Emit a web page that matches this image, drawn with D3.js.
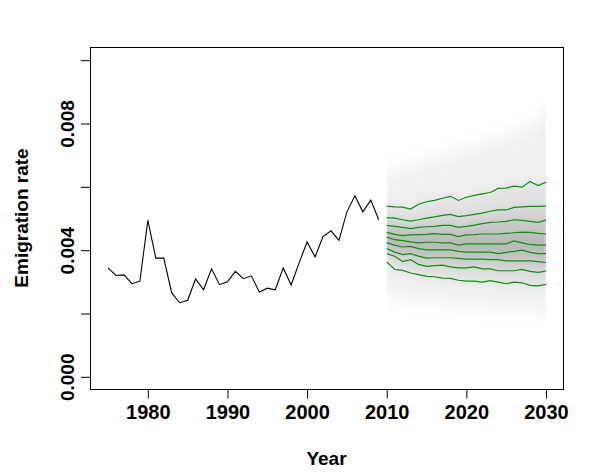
<!DOCTYPE html>
<html><head><meta charset="utf-8">
<script src="https://cdn.jsdelivr.net/npm/d3@7"></script>
<style>body{margin:0;background:#fff}</style>
</head><body><svg id="c" width="590" height="472"></svg>
<script>
// ---- data ----
const histStart = 1975;
const histValues = [0.00344,0.00320,0.00322,0.00294,0.00302,0.00494,0.00375,0.00375,0.00265,0.00234,
  0.00242,0.00309,0.00275,0.00341,0.00291,0.00300,0.00333,0.00310,0.00319,0.00268,
  0.00280,0.00275,0.00344,0.00290,0.00360,0.00426,0.00379,0.00443,0.00461,0.00431,
  0.00521,0.00572,0.00521,0.00558,0.00496];
const fcStart = 2010;
const q90 = [0.00539,0.00537,0.00536,0.00530,0.00545,0.00553,0.00557,0.00564,0.00570,0.00557,0.00567,0.00573,0.00578,0.00582,0.00595,0.00596,0.00602,0.00599,0.00617,0.00604,0.00615];
const q80 = [0.00503,0.00501,0.00496,0.00492,0.00496,0.00501,0.00505,0.00510,0.00513,0.00506,0.00509,0.00513,0.00517,0.00523,0.00527,0.00527,0.00535,0.00537,0.00538,0.00538,0.00539];
const q70 = [0.00478,0.00475,0.00472,0.00468,0.00472,0.00474,0.00475,0.00478,0.00478,0.00472,0.00475,0.00479,0.00484,0.00488,0.00489,0.00491,0.00496,0.00494,0.00491,0.00488,0.00495];
const q60 = [0.00456,0.00450,0.00446,0.00448,0.00449,0.00450,0.00452,0.00450,0.00450,0.00443,0.00448,0.00449,0.00451,0.00451,0.00451,0.00453,0.00455,0.00457,0.00456,0.00453,0.00451];
const q50 = [0.00441,0.00433,0.00430,0.00426,0.00423,0.00425,0.00425,0.00423,0.00423,0.00416,0.00420,0.00420,0.00420,0.00420,0.00420,0.00420,0.00429,0.00423,0.00418,0.00416,0.00416];
const q40 = [0.00423,0.00416,0.00410,0.00412,0.00405,0.00401,0.00401,0.00401,0.00401,0.00396,0.00394,0.00394,0.00394,0.00394,0.00389,0.00393,0.00396,0.00400,0.00393,0.00389,0.00389];
const q30 = [0.00405,0.00394,0.00386,0.00389,0.00381,0.00375,0.00376,0.00376,0.00376,0.00374,0.00372,0.00372,0.00372,0.00370,0.00370,0.00366,0.00366,0.00366,0.00366,0.00364,0.00361];
const q20 = [0.00389,0.00381,0.00364,0.00370,0.00355,0.00349,0.00351,0.00353,0.00347,0.00344,0.00344,0.00347,0.00341,0.00341,0.00335,0.00335,0.00335,0.00339,0.00333,0.00330,0.00334];
const q10 = [0.00363,0.00339,0.00336,0.00328,0.00323,0.00317,0.00316,0.00312,0.00311,0.00305,0.00302,0.00302,0.00299,0.00304,0.00299,0.00294,0.00299,0.00297,0.00289,0.00287,0.00292];
const fanTop = [0.00640,0.00645,0.00650,0.00660,0.00670,0.00678,0.00685,0.00690,0.00700,0.00705,0.00712,0.00720,0.00728,0.00738,0.00745,0.00755,0.00765,0.00775,0.00790,0.00805,0.00830];
const fanBottom = [0.00268,0.00262,0.00258,0.00252,0.00248,0.00245,0.00242,0.00240,0.00238,0.00235,0.00232,0.00230,0.00228,0.00226,0.00224,0.00222,0.00220,0.00218,0.00216,0.00214,0.00212];
const xTicks = [1980,1990,2000,2010,2020,2030];
const yTicks = [0,0.002,0.004,0.006,0.008,0.010];
const yTickLabels = ["0.000","","0.004","","0.008",""];
const outerColor = "#eeeeee";
const fanColors = ["#e2e2e2","#d4d4d4","#c6c6c6","#bababa","#b8b8b8","#c2c2c2","#d0d0d0","#e0e0e0"];

// ---- drawing ----
const font = "'Liberation Sans', Arial, sans-serif";
const svg = d3.select("#c");
const x = d3.scaleLinear().domain([1972.8, 2032.2]).range([90.5, 563.5]);
const y = d3.scaleLinear().domain([-0.0004, 0.0104]).range([389.5, 47.5]);

const defs = svg.append("defs");
defs.append("clipPath").attr("id","fanclip").append("rect")
  .attr("x", x(fcStart)).attr("y", 48).attr("width", x(fcStart+20)-x(fcStart)).attr("height", 340);
const blurO = defs.append("filter").attr("id","blurO").attr("x","-5%").attr("y","-40%").attr("width","110%").attr("height","180%");
blurO.append("feGaussianBlur").attr("stdDeviation","1 12");
const blurI = defs.append("filter").attr("id","blurI").attr("x","-5%").attr("y","-40%").attr("width","110%").attr("height","180%");
blurI.append("feGaussianBlur").attr("stdDeviation","1 5");

const bandArea = (up, lo) => d3.area().x((d,i)=>x(fcStart+i)).y1((d,i)=>y(up[i])).y0((d,i)=>y(lo[i]))(up);
const clipG = svg.append("g").attr("clip-path","url(#fanclip)");
clipG.append("path").attr("d", bandArea(fanTop, fanBottom)).attr("fill", outerColor).attr("filter","url(#blurO)");
const inner = [q90,q80,q70,q60,q50,q40,q30,q20,q10];
const innerG = clipG.append("g").attr("filter","url(#blurI)");
for (let b = 0; b < inner.length-1; b++) {
  innerG.append("path").attr("d", bandArea(inner[b], inner[b+1]))
    .attr("fill", fanColors[b]).attr("stroke", fanColors[b]).attr("stroke-width",0.5);
}

const fcLine = d3.line().x((d,i)=>x(fcStart+i)).y(d=>y(d));
inner.forEach(q=>{
  svg.append("path").attr("d", fcLine(q)).attr("fill","none").attr("stroke","#0c900c").attr("stroke-width",1.2);
});

const hLine = d3.line().x((d,i)=>x(histStart+i)).y(d=>y(d));
svg.append("path").attr("d", hLine(histValues)).attr("fill","none").attr("stroke","#000").attr("stroke-width",1.1);

svg.append("rect").attr("x",90.5).attr("y",47.5).attr("width",473).attr("height",342)
  .attr("fill","none").attr("stroke","#000").attr("stroke-width",1);

const xa = svg.append("g").attr("transform","translate(0,389.5)")
  .call(d3.axisBottom(x).tickValues(xTicks).tickSize(9).tickPadding(6.5).tickFormat(d3.format("d")));
xa.select(".domain").remove();
xa.selectAll("text").attr("font-family",font).attr("font-weight","bold").attr("font-size",20).attr("fill","#000");

const ya = svg.append("g").attr("transform","translate(90.5,0)")
  .call(d3.axisLeft(y).tickValues(yTicks).tickSize(9.5).tickFormat((d,i)=>yTickLabels[i]));
ya.select(".domain").remove();
ya.selectAll("text").attr("transform","rotate(-90)").attr("x",0).attr("y",-17).attr("dy",0)
  .attr("text-anchor","middle").attr("font-family",font).attr("font-weight","bold").attr("font-size",19).attr("fill","#000");

svg.append("text").attr("x",326.5).attr("y",465).attr("text-anchor","middle")
  .attr("font-family",font).attr("font-weight","bold").attr("font-size",19).text("Year");
svg.append("text").attr("transform","translate(28,218) rotate(-90)").attr("text-anchor","middle")
  .attr("font-family",font).attr("font-weight","bold").attr("font-size",19).text("Emigration rate");
</script></body></html>
